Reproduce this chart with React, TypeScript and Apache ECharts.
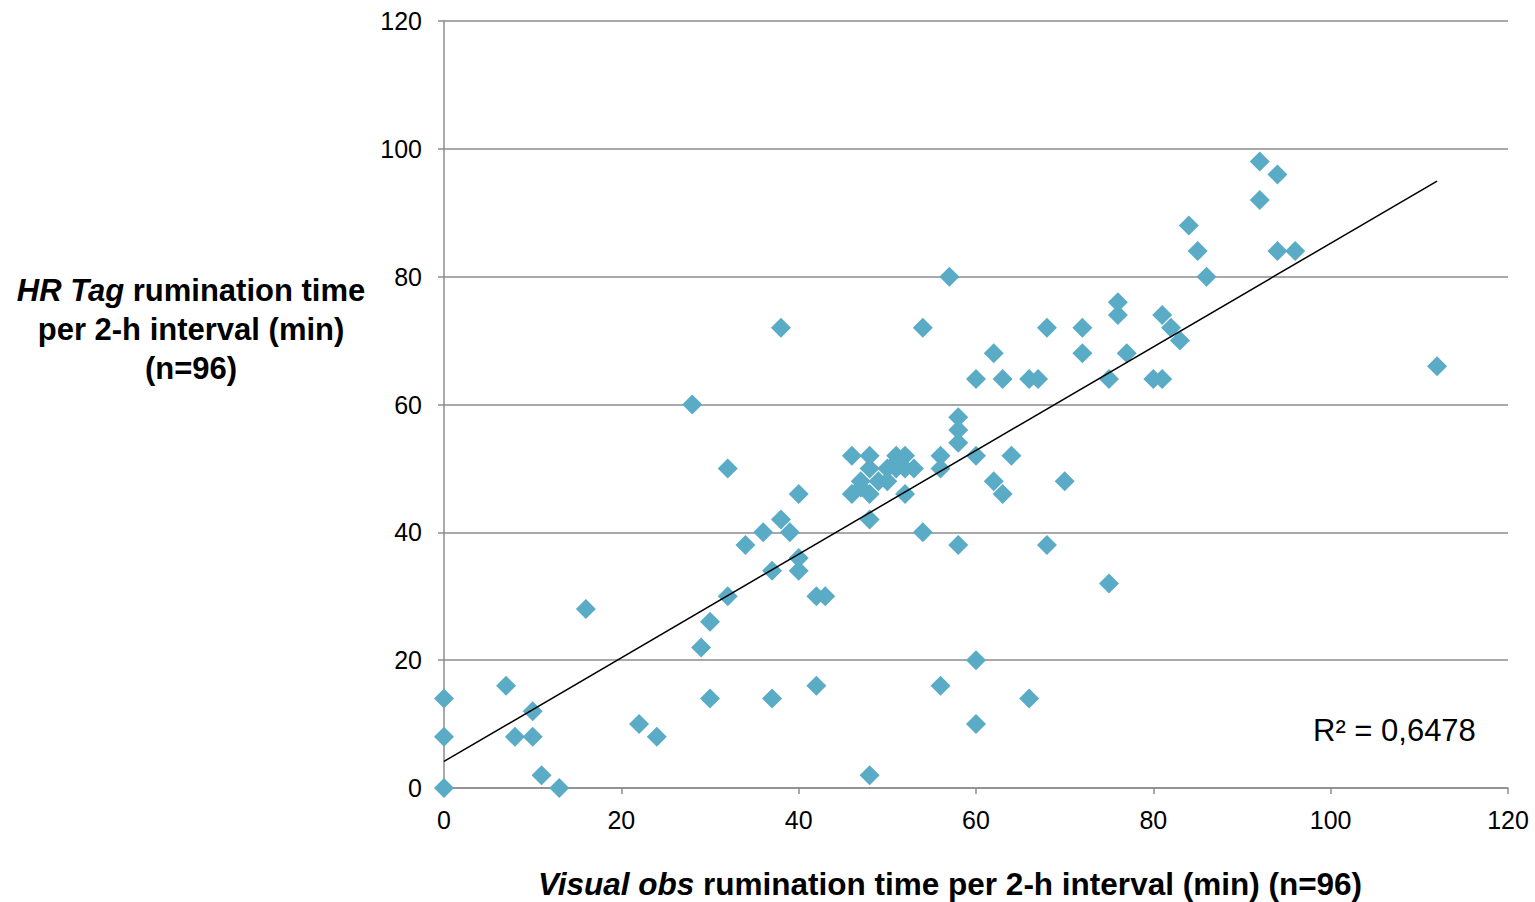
import React, { useEffect, useRef } from "react";
import * as echarts from "echarts";

const visualObs: number[] = [
  0, 0, 0, 7, 8, 10, 10, 11, 13, 16, 22, 24, 28, 29, 30, 30, 32, 32, 34, 36,
  37, 37, 38, 38, 39, 40, 40, 40, 42, 43, 42, 46, 48, 51, 52, 48, 50, 51, 53, 47,
  50, 46, 48, 52, 48, 54, 58, 68, 56, 56, 58, 58, 58, 60, 64, 62, 63, 70, 60, 63,
  66, 67, 57, 54, 62, 68, 72, 72, 76, 76, 77, 75, 80, 81, 81, 82, 83, 85, 86, 92,
  94, 92, 84, 94, 96, 112, 56, 60, 60, 66, 48, 75, 52, 49, 51, 47,
];
const hrTag: number[] = [
  14, 8, 0, 16, 8, 12, 8, 2, 0, 28, 10, 8, 60, 22, 26, 14, 50, 30, 38, 40,
  34, 14, 72, 42, 40, 46, 36, 34, 30, 30, 16, 52, 52, 52, 52, 50, 50, 50, 50, 48,
  48, 46, 46, 46, 42, 40, 38, 38, 52, 50, 58, 56, 54, 52, 52, 48, 46, 48, 64, 64,
  64, 64, 80, 72, 68, 72, 72, 68, 76, 74, 68, 64, 64, 64, 74, 72, 70, 84, 80, 98,
  96, 92, 88, 84, 84, 66, 16, 20, 10, 14, 2, 32, 50, 48, 51, 47,
];
const xTicks = { min: 0, max: 120, interval: 20 };
const yTicks = { min: 0, max: 120, interval: 20 };
const r2Label = "R² = 0,6478";

function regression(xs: number[], ys: number[]) {
  const n = xs.length;
  const mx = xs.reduce((a, b) => a + b, 0) / n;
  const my = ys.reduce((a, b) => a + b, 0) / n;
  let sxy = 0;
  let sxx = 0;
  for (let i = 0; i < n; i++) {
    sxy += (xs[i] - mx) * (ys[i] - my);
    sxx += (xs[i] - mx) * (xs[i] - mx);
  }
  const b = sxy / sxx;
  return { a: my - b * mx, b };
}

export default function App() {
  const ref = useRef<HTMLDivElement>(null);
  useEffect(() => {
    if (!ref.current) return;
    document.body.style.margin = "0";
    document.body.style.overflow = "hidden";
    const chart = echarts.init(ref.current, undefined, { renderer: "svg" });
    const pts = visualObs.map((x, i) => [x, hrTag[i]]);
    const { a, b } = regression(visualObs, hrTag);
    const xMin = Math.min(...visualObs);
    const xMax = Math.max(...visualObs);
    const font = "Liberation Sans, Arial, sans-serif";
    chart.setOption({
      animation: false,
      grid: { left: 444, right: 27, top: 21, bottom: 114, containLabel: false },
      xAxis: {
        type: "value",
        min: xTicks.min,
        max: xTicks.max,
        interval: xTicks.interval,
        axisLine: { show: true, lineStyle: { color: "#8c8c8c", width: 1.5 } },
        axisTick: { show: true, length: 6, lineStyle: { color: "#8c8c8c", width: 1.5 } },
        axisLabel: { color: "#000", fontSize: 25, fontFamily: font, margin: 19 },
        splitLine: { show: false },
      },
      yAxis: {
        type: "value",
        min: yTicks.min,
        max: yTicks.max,
        interval: yTicks.interval,
        axisLine: { show: true, lineStyle: { color: "#8c8c8c", width: 1.5 } },
        axisTick: { show: true, length: 6, lineStyle: { color: "#8c8c8c", width: 1.5 } },
        axisLabel: { color: "#000", fontSize: 25, fontFamily: font, margin: 22 },
        splitLine: { show: true, lineStyle: { color: "#8c8c8c", width: 1.5 } },
      },
      series: [
        {
          type: "scatter",
          data: pts,
          symbol: "diamond",
          symbolSize: 20,
          itemStyle: { color: "#5aabc6", opacity: 1 },
          z: 2,
        },
        {
          type: "line",
          data: [
            [xMin, a + b * xMin],
            [xMax, a + b * xMax],
          ],
          symbol: "none",
          lineStyle: { color: "#000", width: 1.5 },
          z: 3,
        },
      ],
      graphic: [
        {
          type: "text",
          x: 191,
          y: 271,
          style: {
            text: "{i|HR Tag }{b|rumination time}\n{b|per 2-h interval (min)}\n{b|(n=96)}",
            align: "center",
            lineHeight: 39,
            rich: {
              i: { fontFamily: font, fontSize: 31, fontWeight: "bold", fontStyle: "italic", fill: "#000", lineHeight: 39 },
              b: { fontFamily: font, fontSize: 31, fontWeight: "bold", fill: "#000", lineHeight: 39 },
            },
          },
        },
        {
          type: "text",
          x: 950,
          y: 868,
          style: {
            text: "{i|Visual obs }{b|rumination time per 2-h interval (min) (n=96)}",
            align: "center",
            rich: {
              i: { fontFamily: font, fontSize: 31.5, fontWeight: "bold", fontStyle: "italic", fill: "#000" },
              b: { fontFamily: font, fontSize: 31.5, fontWeight: "bold", fill: "#000" },
            },
          },
        },
        {
          type: "text",
          x: 1313,
          y: 715,
          style: { text: r2Label, fontFamily: font, fontSize: 31, fill: "#000" },
        },
      ],
    });
    return () => chart.dispose();
  }, []);
  return <div ref={ref} style={{ width: 1535, height: 902 }} />;
}
